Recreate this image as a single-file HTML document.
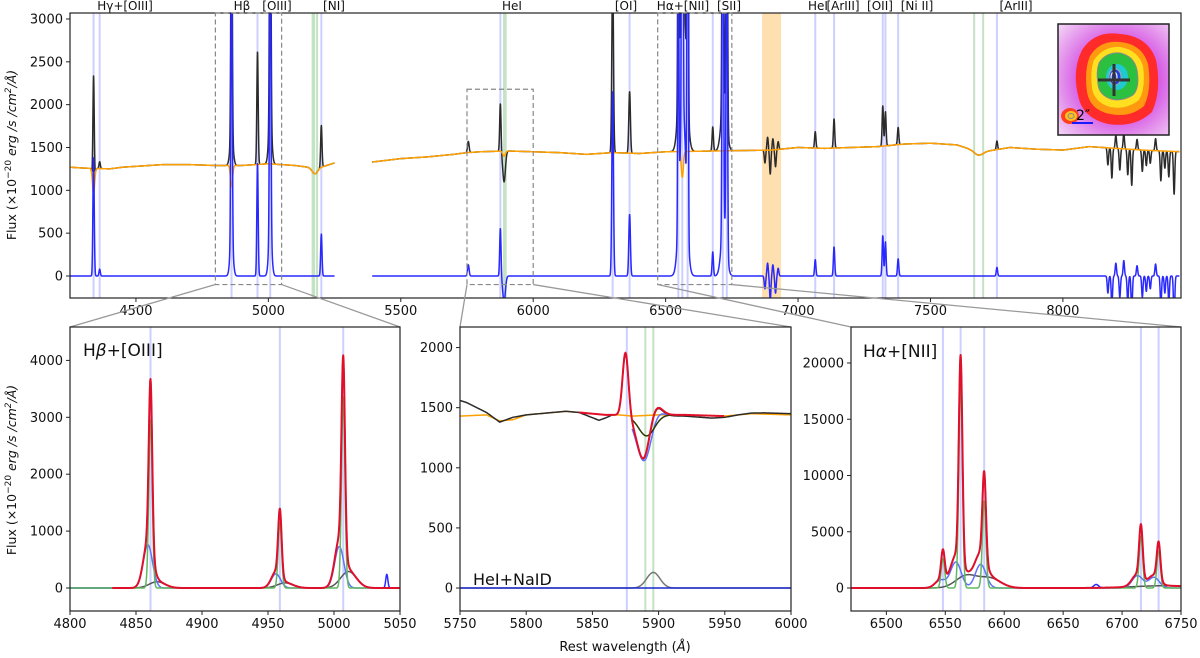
<!DOCTYPE html>
<html><head><meta charset="utf-8">
<style>
html,body{margin:0;padding:0;background:#fff;}
svg{display:block;font-family:"DejaVu Sans","Liberation Sans",sans-serif;}
</style></head>
<body>
<svg id="fig" width="1200" height="658" viewBox="0 0 1200 658" xmlns="http://www.w3.org/2000/svg">
<defs>
<clipPath id="cTop"><rect x="70" y="13" width="1111" height="285"/></clipPath>
<clipPath id="cP1"><rect x="70" y="327" width="330" height="284"/></clipPath>
<clipPath id="cP2"><rect x="460" y="327" width="331" height="284"/></clipPath>
<clipPath id="cP3"><rect x="851" y="327" width="330" height="284"/></clipPath>
<clipPath id="cIn"><rect x="1058" y="24" width="111" height="111"/></clipPath>
<radialGradient id="bgGrad" cx="0.55" cy="0.5" r="0.75">
<stop offset="0.5" stop-color="#d860e6"/><stop offset="1" stop-color="#f4dcf6"/>
</radialGradient>
</defs>
<g id="layer"></g>
</svg>
<script>
// ===== DATA =====
const contWave = [4251,4300,4400,4450,4500,4600,4700,4800,4900,5000,5100,5150,5180,5250, 5392,5500,5600,5700,5750,5800,5900,6000,6100,6200,6300,6400,6500,6700,6900,7000,7100,7200,7300,7400,7500,7600,7650,7700,7800,7900,8000,8100,8200,8300,8446];
const contFlux = [1270,1260,1250,1270,1280,1300,1300,1290,1290,1310,1290,1270,1250,1320, 1330,1370,1390,1420,1440,1450,1460,1450,1440,1420,1440,1430,1450,1460,1470,1500,1490,1500,1510,1540,1550,1530,1480,1450,1500,1480,1470,1510,1490,1470,1450];
const absWave = [4340,4861,5175,5890,6563,7680];
const absDepth = [-300,-250,-60,-60,-300,-50];
const absSigma = [4,4,10,5,4,15];
const emWave = [4340,4363,4861,4861,4959,5007,5007,5200,5755,5876,5890,6300,6364,6548,6563,6583,6565,6678,6716,6731,6720,7065,7136,7320,7330,7378,7751];
const emPeak = [1380,80,3700,400,1320,4100,500,490,130,560,-300,2150,720,3500,20000,10000,2000,280,5500,4300,600,190,340,470,400,200,100];
const emSigma = [2.5,2.5,2.5,6,2.5,2.5,6,2.5,3,2.5,5,3,3,2,2,2,12,2.5,2.5,2.5,10,2.5,2.5,2.5,2.5,2.5,2.5];
const spikeWave = [6875,6885,6895,6905,6915,6925,8170,8185,8200,8215,8230,8245,8260,8280,8300,8315,8330,8350,8370,8385,8400,8420];
const spikeVal = [-150,150,-280,130,-200,90,-200,-350,150,-250,180,-300,-420,120,-250,-180,-150,140,-350,-200,-300,-500];
const blueMarks = [4340,4363,4861,4959,5007,5200,5876,6300,6364,6548,6563,6583,6678,6716,6731,7065,7136,7320,7330,7378,7751];
const greenMarks = [5167,5173,5184,5890,5896,7665,7699];
const topLabels = ["Hγ+[OIII]","Hβ","[OIII]","[NI]","HeI","[OI]","Hα+[NII]","[SII]","HeI","[ArIII]","[OII]","[Ni II]","[ArIII]"];
const topLabelX = [125,242,277,334,512,626,683,729,818,843,880,917,1016];
const topTicks = [4500,5000,5500,6000,6500,7000,7500,8000];
const topYTicks = [0,500,1000,1500,2000,2500,3000];

const p1Center = [4861,4959,5007];
const p1Green = [2950,1150,3350];
const p1Blue = [760,250,730];
const p1BlueC = [4859,4956,5004];
const p1Gray = [110,90,290];
const p1GrayC = [4866,4963,5011];
const p1Ticks = [4800,4850,4900,4950,5000,5050];
const p1YTicks = [0,1000,2000,3000,4000];

const p2ContWave = [5750,5770,5780,5790,5800,5830,5850,5860,5870,5880,5900,5920,5950,5970,6000];
const p2ContFlux = [1430,1440,1390,1400,1440,1470,1450,1440,1440,1430,1440,1440,1430,1450,1440];
const p2ObsWave = [5750,5755,5760,5770,5780,5790,5800,5820,5840,5855,5865,5920,5940,5960,5980,6000];
const p2ObsOff = [130,110,80,20,-10,20,0,0,0,-50,0,-10,-20,0,10,10];
const p2HeI = [530,5875,2.2];
const p2NaDRed = [-400,5889,5];
const p2NaDBlue = [-430,5890,6];
const p2NaDOlive = [-170,5891,6];
const p2Gray = [130,5896,5];
const p2Marks = [5876,5890,5896];
const p2Ticks = [5750,5800,5850,5900,5950,6000];
const p2YTicks = [0,500,1000,1500,2000];

const p3Center = [6548,6563,6583,6716,6731];
const p3Green = [2600,18200,7700,4600,3300];
const p3BlueC = [6546,6559,6580,6713,6727];
const p3Blue = [700,2300,2100,1100,950];
const p3GrayC = [6568,6588,6735];
const p3Gray = [1100,850,200];
const p3GraySig = [9,9,25];
const p3Ticks = [6500,6550,6600,6650,6700,6750];
const p3YTicks = [0,5000,10000,15000,20000];

// ===== HELPERS =====
const NS = "http://www.w3.org/2000/svg";
const layer = document.getElementById('layer');
function el(tag, attrs, parent){ const e=document.createElementNS(NS,tag); for(const k in attrs) e.setAttribute(k,attrs[k]); (parent||layer).appendChild(e); return e; }
function g(a,mu,s,x){ return a*Math.exp(-(x-mu)*(x-mu)/(2*s*s)); }
function interp(xs,ys,x){ if(x<=xs[0])return ys[0]; for(let i=1;i<xs.length;i++){ if(x<=xs[i]){ const t=(x-xs[i-1])/(xs[i]-xs[i-1]); return ys[i-1]+t*(ys[i]-ys[i-1]); } } return ys[ys.length-1]; }
function mkAxis(x0,x1,y0,y1,xmin,xmax,ymin,ymax){ return {x0,x1,y0,y1,sx:w=>x0+(w-xmin)/(xmax-xmin)*(x1-x0), sy:v=>y1-(v-ymin)/(ymax-ymin)*(y1-y0)}; }
function pathFrom(ax,xs,ys){ let d=''; for(let i=0;i<xs.length;i++){ d+=(i?'L':'M')+ax.sx(xs[i]).toFixed(2)+' '+ax.sy(ys[i]).toFixed(2); } return d; }

const TOP = mkAxis(70,1181,13,298,4251,8446,-257,3070);
const P1 = mkAxis(70,400,327,611,4800,5050,-404,4587);
const P2 = mkAxis(460,791,327,611,5750,6000,-191,2171);
const P3 = mkAxis(851,1181,327,611,6470,6750,-2044,23200);

function drawAxesFrame(ax,name){
  const r=el('rect',{x:ax.x0,y:ax.y0,width:ax.x1-ax.x0,height:ax.y1-ax.y0,fill:'none',stroke:'#222','stroke-width':1.2});
  
  
}
function drawTicks(ax,xt,yt,name){
  const gg=el('g',{});
  
  
  xt.forEach(t=>{ const x=ax.sx(t);
    el('line',{x1:x,x2:x,y1:ax.y1,y2:ax.y1+4,stroke:'#222','stroke-width':1},gg);
    const tx=el('text',{x:x,y:ax.y1+17,'text-anchor':'middle','font-size':13,fill:'#111'},gg); tx.textContent=t;
    
    
  });
  yt.forEach(t=>{ const y=ax.sy(t);
    el('line',{x1:ax.x0-4,x2:ax.x0,y1:y,y2:y,stroke:'#222','stroke-width':1},gg);
    const tx=el('text',{x:ax.x0-7,y:y+4.5,'text-anchor':'end','font-size':13,fill:'#111'},gg); tx.textContent=t;
    
    
  });
}
function vline(ax,w,color,clip,name){
  const l=el('line',{x1:ax.sx(w),x2:ax.sx(w),y1:ax.y0,y2:ax.y1,stroke:color,'stroke-width':2,'clip-path':clip});
  
  
}
function curve(ax,xs,ys,color,width,clip,name){
  const p=el('path',{d:pathFrom(ax,xs,ys),fill:'none',stroke:color,'stroke-width':width,'stroke-linejoin':'round','clip-path':clip});
  
  
  return p;
}

// ===== TOP PANEL =====
{ const r=el('rect',{x:TOP.sx(6864),y:13,width:TOP.sx(6936)-TOP.sx(6864),height:285,fill:'#fedfb0'});
  
   }
blueMarks.forEach(w=>vline(TOP,w,'#cdd0ff','url(#cTop)','line-marker'));
greenMarks.forEach(w=>vline(TOP,w,'#c4e2c4','url(#cTop)','absorption-marker'));

function topModel(w){
  let c=interp(contWave,contFlux,w);
  for(let i=0;i<absWave.length;i++) c+=g(absDepth[i],absWave[i],absSigma[i],w);
  let e=0;
  for(let i=0;i<emWave.length;i++) e+=g(emPeak[i],emWave[i],emSigma[i],w);
  for(let i=0;i<spikeWave.length;i++) e+=g(spikeVal[i],spikeWave[i],2.5,w);
  return [c,e];
}
[[4251,5250],[5392,8440]].forEach(seg=>{
  const xs=[],oy=[],by=[],ky=[];
  for(let w=seg[0];w<=seg[1];w+=0.7){ const [c,e]=topModel(w); xs.push(w); oy.push(c); by.push(e); ky.push(c+e); }
  curve(TOP,xs,ky,'#2b2b2b',1.5,'url(#cTop)','observed-spectrum');
  curve(TOP,xs,oy,'#ffa000',1.5,'url(#cTop)','stellar-continuum');
  curve(TOP,xs,by,'#2828ff',1.5,'url(#cTop)','residual-spectrum');
});
drawAxesFrame(TOP,'top-panel');
drawTicks(TOP,topTicks,topYTicks,'top-panel');
topLabels.forEach((t,i)=>{ const tx=el('text',{x:topLabelX[i],y:10,'text-anchor':'middle','font-size':12,fill:'#111'}); tx.textContent=t;
  
   });
const boxes=[[4800,5050,-100,3070],[5750,6000,-100,2180],[6470,6750,-100,3070]];
boxes.forEach(b=>{ const x0=TOP.sx(b[0]),x1=TOP.sx(b[1]),y0=TOP.sy(b[3]),y1=TOP.sy(b[2]);
  const r=el('rect',{x:x0,y:y0,width:x1-x0,height:y1-y0,fill:'none',stroke:'#888','stroke-width':1.2,'stroke-dasharray':'5,3'});
  
   });
const panels=[P1,P2,P3];
boxes.forEach((b,i)=>{ const P=panels[i];
  [[b[0],P.x0],[b[1],P.x1]].forEach(pr=>{
    const l=el('line',{x1:TOP.sx(pr[0]),y1:TOP.sy(b[2]),x2:pr[1],y2:327,stroke:'#999','stroke-width':1.3});
    
     }); });

// ===== INSET IMAGE =====
{ const gi=el('g',{'clip-path':'url(#cIn)'});
  
  
  el('rect',{x:1058,y:24,width:111,height:111,fill:'url(#bgGrad)'},gi);
  el('path',{d:'M1082 50 Q1095 30 1120 34 Q1148 36 1156 60 Q1162 90 1152 112 Q1135 128 1108 124 Q1082 118 1078 95 Q1072 70 1082 50Z',fill:'#ff2a2a'},gi);
  el('path',{d:'M1090 56 Q1100 40 1120 42 Q1142 44 1148 64 Q1152 90 1144 106 Q1130 118 1110 114 Q1090 110 1087 92 Q1084 70 1090 56Z',fill:'#ff9a10'},gi);
  el('path',{d:'M1094 60 Q1104 46 1120 47 Q1138 50 1143 66 Q1146 88 1139 100 Q1126 110 1110 107 Q1094 102 1092 88 Q1090 70 1094 60Z',fill:'#ffe020'},gi);
  el('path',{d:'M1099 63 Q1106 52 1120 53 Q1134 56 1137 70 Q1140 88 1133 95 Q1122 102 1111 99 Q1099 95 1098 84 Q1096 72 1099 63Z',fill:'#2cc040',stroke:'#888','stroke-width':1},gi);
  el('ellipse',{cx:1117,cy:77,rx:11,ry:13,fill:'#20c8d0'},gi);
  el('ellipse',{cx:1115,cy:77,rx:6,ry:8,fill:'#2040e0',stroke:'#aaa','stroke-width':1},gi);
  el('ellipse',{cx:1114,cy:77,rx:3,ry:5,fill:'none',stroke:'#eee','stroke-width':1.2},gi);
  el('line',{x1:1098,x2:1130,y1:80,y2:80,stroke:'#333','stroke-width':3},gi);
  el('line',{x1:1114,x2:1114,y1:64,y2:96,stroke:'#333','stroke-width':3},gi);
  el('ellipse',{cx:1070,cy:116,rx:9,ry:8,fill:'#ff4020'},gi);
  el('ellipse',{cx:1071,cy:116,rx:6,ry:5,fill:'#ffc020'},gi);
  el('ellipse',{cx:1071,cy:116,rx:3,ry:2.5,fill:'none',stroke:'#888','stroke-width':1},gi);
  el('line',{x1:1072,x2:1093,y1:123,y2:123,stroke:'#1a1aff','stroke-width':2},gi);
  const t=el('text',{x:1076,y:120,'font-size':14,fill:'#000'},gi); t.textContent='2″';
  
  
  el('rect',{x:1058,y:24,width:111,height:111,fill:'none',stroke:'#222','stroke-width':1.5});
}

// ===== PANEL 1 =====
p1Center.forEach(w=>vline(P1,w,'#cdd0ff','url(#cP1)','line-marker'));
{ const xs=[],obs=[],red=[],gr=[],bl=[],gy=[];
  for(let w=4800;w<=5050;w+=0.25){
    let G=0,B=0,Y=0;
    for(let i=0;i<3;i++){ G+=g(p1Green[i],p1Center[i],1.3,w); B+=g(p1Blue[i],p1BlueC[i],3.5,w); Y+=g(p1Gray[i],p1GrayC[i],6,w); }
    xs.push(w); gr.push(G); bl.push(B); gy.push(Y); red.push(G+B+Y); obs.push(G+B+Y+g(240,5040,0.8,w));
  }
  curve(P1,xs,obs,'#2828ff',1.5,'url(#cP1)','hb-observed');
  curve(P1,xs,gy,'#555',1.5,'url(#cP1)','hb-outflow-component');
  curve(P1,xs,bl,'#6070ff',1.5,'url(#cP1)','hb-broad-component');
  curve(P1,xs,gr,'#60b860',1.5,'url(#cP1)','hb-narrow-component');
  const i0=xs.findIndex(v=>v>=4832);
  curve(P1,xs.slice(i0),red.slice(i0),'#e0102a',2,'url(#cP1)','hb-total-fit');
}
drawAxesFrame(P1,'hb-panel');
drawTicks(P1,p1Ticks,p1YTicks,'hb-panel');
{ const t=el('text',{x:83,y:356,'font-size':17,fill:'#111'}); t.innerHTML='H<tspan font-style="italic">β</tspan>+[OIII]';
  
   }

// ===== PANEL 2 =====
p2Marks.forEach((w,i)=>vline(P2,w,i==0?'#cdd0ff':'#c4e2c4','url(#cP2)','line-marker'));
{ const xs=[],cont=[],obs=[],red=[],blu=[],olv=[],gry=[],zero=[];
  for(let w=5750;w<=6000;w+=0.5){
    const c=interp(p2ContWave,p2ContFlux,w);
    const he=g(p2HeI[0],p2HeI[1],p2HeI[2],w), gy=g(p2Gray[0],p2Gray[1],p2Gray[2],w);
    const r=c+he+g(p2NaDRed[0],p2NaDRed[1],p2NaDRed[2],w)+gy;
    xs.push(w); cont.push(c); red.push(r);
    obs.push(r+interp(p2ObsWave,p2ObsOff,w));
    blu.push(c+g(p2NaDBlue[0],p2NaDBlue[1],p2NaDBlue[2],w)+gy);
    olv.push(c+g(p2NaDOlive[0],p2NaDOlive[1],p2NaDOlive[2],w));
    gry.push(gy); zero.push(0);
  }
  curve(P2,xs,cont,'#ffa000',1.5,'url(#cP2)','nad-stellar-continuum');
  curve(P2,xs,obs,'#2b2b2b',1.5,'url(#cP2)','nad-observed');
  const a=xs.findIndex(v=>v>=5880), b=xs.findIndex(v=>v>=5915);
  curve(P2,xs.slice(a,b),blu.slice(a,b),'#6070ff',1.5,'url(#cP2)','nad-absorption-model');
  curve(P2,xs.slice(a,b),olv.slice(a,b),'#2a3a00',1.5,'url(#cP2)','nad-gas-model');
  const c0=xs.findIndex(v=>v>=5840), c1=xs.findIndex(v=>v>=5950);
  curve(P2,xs.slice(c0,c1),red.slice(c0,c1),'#e0102a',2,'url(#cP2)','nad-total-fit');
  curve(P2,xs,gry,'#777',1.5,'url(#cP2)','hei-emission-component');
  curve(P2,xs,zero,'#1a2ad0',1.5,'url(#cP2)','nad-residual');
}
drawAxesFrame(P2,'nad-panel');
drawTicks(P2,p2Ticks,p2YTicks,'nad-panel');
{ const t=el('text',{x:473,y:585,'font-size':16,fill:'#111'}); t.textContent='HeI+NaID';
  
   }

// ===== PANEL 3 =====
p3Center.forEach(w=>vline(P3,w,'#cdd0ff','url(#cP3)','line-marker'));
{ const xs=[],red=[],gr=[],bl=[],gy=[],obs=[];
  for(let w=6470;w<=6750;w+=0.25){
    let G=0,B=0,Y=0;
    for(let i=0;i<5;i++){ G+=g(p3Green[i],p3Center[i],1.5,w); B+=g(p3Blue[i],p3BlueC[i],4.5,w); }
    for(let i=0;i<3;i++) Y+=g(p3Gray[i],p3GrayC[i],p3GraySig[i],w);
    xs.push(w); gr.push(G); bl.push(B); gy.push(Y); red.push(G+B+Y); obs.push(G+B+Y+g(300,6678,2,w));
  }
  curve(P3,xs,obs,'#2828ff',1.5,'url(#cP3)','ha-observed');
  curve(P3,xs,gy,'#555',1.5,'url(#cP3)','ha-outflow-component');
  curve(P3,xs,bl,'#6070ff',1.5,'url(#cP3)','ha-broad-component');
  curve(P3,xs,gr,'#60b860',1.5,'url(#cP3)','ha-narrow-component');
  curve(P3,xs,red,'#e0102a',2,'url(#cP3)','ha-total-fit');
}
drawAxesFrame(P3,'ha-panel');
drawTicks(P3,p3Ticks,p3YTicks,'ha-panel');
{ const t=el('text',{x:863,y:357,'font-size':17,fill:'#111'}); t.innerHTML='H<tspan font-style="italic">α</tspan>+[NII]';
  
   }

// ===== AXIS TITLES =====
function yTitle(cx,cy,name){
  const t=el('text',{x:0,y:0,'font-size':12.5,fill:'#111','text-anchor':'middle',transform:`translate(${cx},${cy}) rotate(-90)`});
  t.innerHTML='Flux (×10<tspan dy="-5" font-size="9">−20</tspan><tspan dy="5"> </tspan><tspan font-style="italic">erg /s /cm<tspan dy="-5" font-size="9">2</tspan><tspan dy="5">/Å)</tspan></tspan>';
  
  
}
yTitle(16,155,'top-y-axis-title');
yTitle(16,470,'bottom-y-axis-title');
{ const t=el('text',{x:625,y:651,'font-size':13,fill:'#111','text-anchor':'middle'}); t.innerHTML='Rest wavelength (<tspan font-style="italic">Å</tspan>)';
  
   }
</script>
</body></html>
